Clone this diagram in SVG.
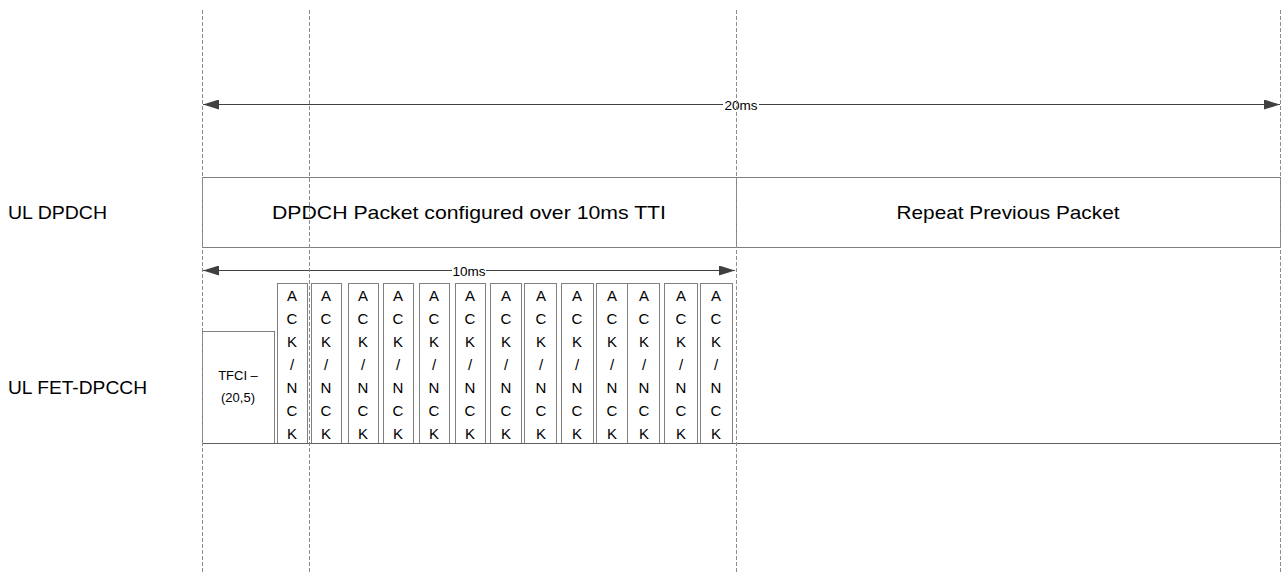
<svg xmlns="http://www.w3.org/2000/svg" width="1282" height="572" viewBox="0 0 1282 572">
<defs>
<marker id="ah" markerWidth="16" markerHeight="10" refX="16" refY="5" orient="auto-start-reverse" markerUnits="userSpaceOnUse">
<path d="M0,0 L16,5 L0,10 Z" fill="#404040"/>
</marker>
<style>
.dash{stroke:#8c8c8c;stroke-width:1;stroke-dasharray:4,2;fill:none}
.box{fill:#fff;stroke:#808080;stroke-width:1}
.arr{stroke:#404040;stroke-width:1.2;fill:none}
.lbl{font-family:"Liberation Sans",Arial,sans-serif;font-size:19px;fill:#000}
.big{font-family:"Liberation Sans",Arial,sans-serif;font-size:19px;fill:#000;text-anchor:middle}
.ms{font-family:"Liberation Sans",Arial,sans-serif;font-size:13.5px;fill:#000;text-anchor:middle}
.ack{font-family:"Liberation Sans",Arial,sans-serif;font-size:15px;fill:#000;text-anchor:middle}
.tf{font-family:"Liberation Sans",Arial,sans-serif;font-size:13px;fill:#000;text-anchor:middle}
</style>
</defs>
<rect width="1282" height="572" fill="#fff"/>

<g id="labels">
<text class="lbl" x="8" y="219" textLength="99" lengthAdjust="spacingAndGlyphs">UL DPDCH</text>
<text class="lbl" x="8" y="394" textLength="139" lengthAdjust="spacingAndGlyphs">UL FET-DPCCH</text>
</g>

<g id="dpdch-packet">
<rect class="box" x="202.5" y="177.5" width="534" height="70"/>
<text class="big" x="469" y="219" textLength="394" lengthAdjust="spacingAndGlyphs">DPDCH Packet configured over 10ms TTI</text>
</g>
<g id="repeat-packet">
<rect class="box" x="736.5" y="177.5" width="544" height="70"/>
<text class="big" x="1008" y="219" textLength="223" lengthAdjust="spacingAndGlyphs">Repeat Previous Packet</text>
</g>

<g id="tfci">
<rect class="box" x="202.5" y="331.5" width="72" height="112"/>
<text class="tf" x="238" y="380">TFCI –</text>
<text class="tf" x="238" y="402">(20,5)</text>
</g>

<g id="acks">
<g id="ack1"><rect class="box" x="277.5" y="283.5" width="30" height="160"/></g>
<g id="ack2"><rect class="box" x="311.5" y="283.5" width="30" height="160"/></g>
<g id="ack3"><rect class="box" x="348.5" y="283.5" width="30" height="160"/></g>
<g id="ack4"><rect class="box" x="383.5" y="283.5" width="30" height="160"/></g>
<g id="ack5"><rect class="box" x="419.5" y="283.5" width="30" height="160"/></g>
<g id="ack6"><rect class="box" x="455.5" y="283.5" width="30" height="160"/></g>
<g id="ack7"><rect class="box" x="490.5" y="283.5" width="31" height="160"/></g>
<g id="ack8"><rect class="box" x="524.5" y="283.5" width="32" height="160"/></g>
<g id="ack9"><rect class="box" x="561.5" y="283.5" width="32" height="160"/></g>
<g id="ack10"><rect class="box" x="596.5" y="283.5" width="31" height="160"/></g>
<g id="ack11"><rect class="box" x="627.5" y="283.5" width="32" height="160"/></g>
<g id="ack12"><rect class="box" x="664.5" y="283.5" width="33" height="160"/></g>
<g id="ack13"><rect class="box" x="700.5" y="283.5" width="32" height="160"/></g>
<g id="acktext">
<text class="ack" x="292" y="301">A</text><text class="ack" x="292" y="324">C</text><text class="ack" x="292" y="347">K</text><text class="ack" x="292" y="370">/</text><text class="ack" x="292" y="393">N</text><text class="ack" x="292" y="416">C</text><text class="ack" x="292" y="439">K</text>
<text class="ack" x="326" y="301">A</text><text class="ack" x="326" y="324">C</text><text class="ack" x="326" y="347">K</text><text class="ack" x="326" y="370">/</text><text class="ack" x="326" y="393">N</text><text class="ack" x="326" y="416">C</text><text class="ack" x="326" y="439">K</text>
<text class="ack" x="363" y="301">A</text><text class="ack" x="363" y="324">C</text><text class="ack" x="363" y="347">K</text><text class="ack" x="363" y="370">/</text><text class="ack" x="363" y="393">N</text><text class="ack" x="363" y="416">C</text><text class="ack" x="363" y="439">K</text>
<text class="ack" x="398" y="301">A</text><text class="ack" x="398" y="324">C</text><text class="ack" x="398" y="347">K</text><text class="ack" x="398" y="370">/</text><text class="ack" x="398" y="393">N</text><text class="ack" x="398" y="416">C</text><text class="ack" x="398" y="439">K</text>
<text class="ack" x="434" y="301">A</text><text class="ack" x="434" y="324">C</text><text class="ack" x="434" y="347">K</text><text class="ack" x="434" y="370">/</text><text class="ack" x="434" y="393">N</text><text class="ack" x="434" y="416">C</text><text class="ack" x="434" y="439">K</text>
<text class="ack" x="470" y="301">A</text><text class="ack" x="470" y="324">C</text><text class="ack" x="470" y="347">K</text><text class="ack" x="470" y="370">/</text><text class="ack" x="470" y="393">N</text><text class="ack" x="470" y="416">C</text><text class="ack" x="470" y="439">K</text>
<text class="ack" x="506" y="301">A</text><text class="ack" x="506" y="324">C</text><text class="ack" x="506" y="347">K</text><text class="ack" x="506" y="370">/</text><text class="ack" x="506" y="393">N</text><text class="ack" x="506" y="416">C</text><text class="ack" x="506" y="439">K</text>
<text class="ack" x="541" y="301">A</text><text class="ack" x="541" y="324">C</text><text class="ack" x="541" y="347">K</text><text class="ack" x="541" y="370">/</text><text class="ack" x="541" y="393">N</text><text class="ack" x="541" y="416">C</text><text class="ack" x="541" y="439">K</text>
<text class="ack" x="577" y="301">A</text><text class="ack" x="577" y="324">C</text><text class="ack" x="577" y="347">K</text><text class="ack" x="577" y="370">/</text><text class="ack" x="577" y="393">N</text><text class="ack" x="577" y="416">C</text><text class="ack" x="577" y="439">K</text>
<text class="ack" x="612" y="301">A</text><text class="ack" x="612" y="324">C</text><text class="ack" x="612" y="347">K</text><text class="ack" x="612" y="370">/</text><text class="ack" x="612" y="393">N</text><text class="ack" x="612" y="416">C</text><text class="ack" x="612" y="439">K</text>
<text class="ack" x="644" y="301">A</text><text class="ack" x="644" y="324">C</text><text class="ack" x="644" y="347">K</text><text class="ack" x="644" y="370">/</text><text class="ack" x="644" y="393">N</text><text class="ack" x="644" y="416">C</text><text class="ack" x="644" y="439">K</text>
<text class="ack" x="681" y="301">A</text><text class="ack" x="681" y="324">C</text><text class="ack" x="681" y="347">K</text><text class="ack" x="681" y="370">/</text><text class="ack" x="681" y="393">N</text><text class="ack" x="681" y="416">C</text><text class="ack" x="681" y="439">K</text>
<text class="ack" x="716" y="301">A</text><text class="ack" x="716" y="324">C</text><text class="ack" x="716" y="347">K</text><text class="ack" x="716" y="370">/</text><text class="ack" x="716" y="393">N</text><text class="ack" x="716" y="416">C</text><text class="ack" x="716" y="439">K</text>
</g>
</g>

<g id="connectors">
<line x1="202" y1="443.5" x2="1280" y2="443.5" stroke="#606060" stroke-width="1.2"/>
<line class="arr" x1="203" y1="104.5" x2="1280" y2="104.5" marker-start="url(#ah)" marker-end="url(#ah)"/>
<rect x="723" y="97" width="36" height="16" fill="#fff"/>
<text class="ms" x="741" y="110">20ms</text>
<line class="arr" x1="203" y1="270.5" x2="735" y2="270.5" marker-start="url(#ah)" marker-end="url(#ah)"/>
<rect x="452" y="263" width="34" height="15" fill="#fff"/>
<text class="ms" x="469" y="275.5">10ms</text>
<line class="dash" x1="202.5" y1="10" x2="202.5" y2="572"/>
<line class="dash" x1="309.5" y1="10" x2="309.5" y2="572"/>
<line class="dash" x1="736.5" y1="10" x2="736.5" y2="572"/>
<line class="dash" x1="1280.5" y1="10" x2="1280.5" y2="572"/>
</g>
</svg>
